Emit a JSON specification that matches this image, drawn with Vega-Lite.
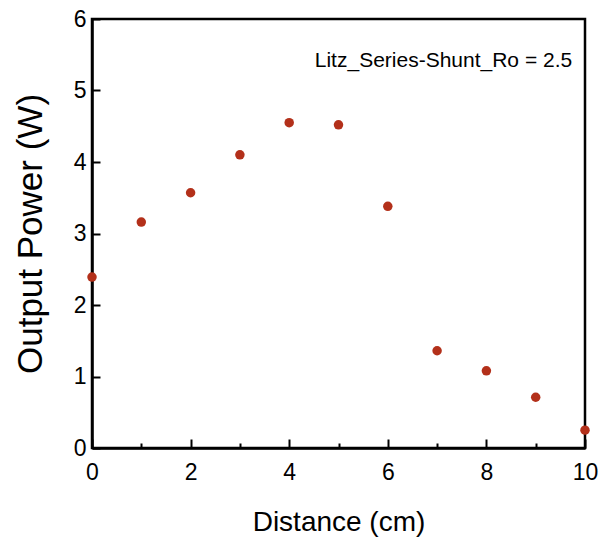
{
  "$schema": "https://vega.github.io/schema/vega-lite/v6.json",
  "width": 493,
  "height": 429,
  "autosize": {"type": "none"},
  "padding": {"left": 92, "top": 19, "right": 16, "bottom": 90},
  "background": "white",
  "config": {
    "view": {"stroke": "black", "strokeWidth": 2.5},
    "font": "Liberation Sans"
  },
  "datasets": {
    "pts": [
      {"distance": 0, "power": 2.39},
      {"distance": 1, "power": 3.16},
      {"distance": 2, "power": 3.57},
      {"distance": 3, "power": 4.10},
      {"distance": 4, "power": 4.55},
      {"distance": 5, "power": 4.52},
      {"distance": 6, "power": 3.38},
      {"distance": 7, "power": 1.36},
      {"distance": 8, "power": 1.08},
      {"distance": 9, "power": 0.71},
      {"distance": 10, "power": 0.25}
    ],
    "note": [
      {"distance": 9.74, "power": 5.41, "label": "Litz_Series-Shunt_Ro = 2.5"}
    ]
  },
  "layer": [
    {
      "data": {"name": "pts"},
      "mark": {"type": "circle", "size": 90, "color": "#b3301a", "opacity": 1, "clip": false},
      "encoding": {
        "x": {
          "field": "distance", "type": "quantitative",
          "scale": {"domain": [0, 10], "nice": false, "zero": false},
          "axis": {
            "title": "Distance (cm)",
            "values": [0,1,2,3,4,5,6,7,8,9,10],
            "labelExpr": "datum.value % 2 === 0 ? format(datum.value, 'd') : ''",
            "grid": false,
            "domainColor": "black", "domainWidth": 2.5,
            "tickColor": "black", "tickWidth": 2,
            "tickSize": {"condition": {"test": "datum.value % 2 === 0", "value": -9}, "value": -5},
            "labelPadding": 22,
            "labelFontSize": 23, "labelColor": "black", "labelFlush": false, "labelOverlap": false,
            "titleFontSize": 28, "titleFontWeight": "normal", "titleColor": "black",
            "titlePadding": 20
          }
        },
        "y": {
          "field": "power", "type": "quantitative",
          "scale": {"domain": [0, 6], "nice": false},
          "axis": {
            "title": "Output Power (W)",
            "values": [0,0.5,1,1.5,2,2.5,3,3.5,4,4.5,5,5.5,6],
            "labelExpr": "datum.value % 1 === 0 ? format(datum.value, 'd') : ''",
            "grid": false,
            "domainColor": "black", "domainWidth": 2.5,
            "tickColor": "black", "tickWidth": 2,
            "tickSize": {"condition": {"test": "datum.value % 1 === 0", "value": -8}, "value": -4},
            "labelPadding": 14,
            "labelFontSize": 23, "labelColor": "black", "labelFlush": false, "labelOverlap": false,
            "titleFontSize": 35, "titleFontWeight": "normal", "titleColor": "black",
            "titlePadding": 25
          }
        }
      }
    },
    {
      "data": {"name": "note"},
      "mark": {"type": "text", "align": "right", "baseline": "middle", "fontSize": 21, "color": "black"},
      "encoding": {
        "x": {"field": "distance", "type": "quantitative"},
        "y": {"field": "power", "type": "quantitative"},
        "text": {"field": "label"}
      }
    }
  ]
}
